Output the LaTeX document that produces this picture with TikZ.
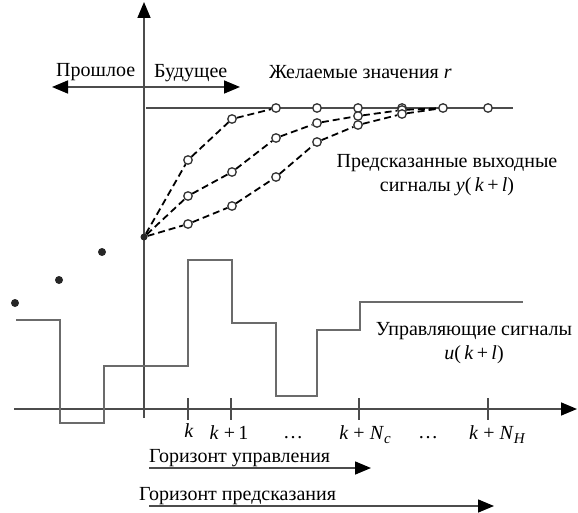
\documentclass[tikz,border=0pt]{standalone}
\usepackage{fontspec}
\setmainfont{Liberation Serif}
\usetikzlibrary{arrows.meta,positioning}
\definecolor{axisgray}{gray}{0.3}
\definecolor{stepgray}{gray}{0.42}
\newcommand{\lowidx}[1]{\raisebox{-4pt}{\fontsize{15}{15}\selectfont\itshape #1}}

\begin{document}
\begin{tikzpicture}[x=1pt,y=-1pt,
font=\fontsize{20}{24}\selectfont,
axis/.style={draw=axisgray,line width=1.6pt},
tip/.style={Triangle[length=16pt,width=13pt,color=black]},
arr/.style={-{Triangle[length=16pt,width=13pt,color=black]}},
ring/.style={circle,draw=black!80,fill=white,line width=1.3pt,inner sep=0pt,minimum size=8.5pt},
dot/.style={circle,fill=black!85,inner sep=0pt,minimum size=8pt},
pred/.style={draw=black,dash pattern=on 7pt off 4pt,line width=1.8pt},
lab/.style={inner sep=0pt,anchor=base west},
tk/.style={inner sep=0pt,anchor=base}
]
\useasboundingbox (0,0) rectangle (578,513);

% axes
\coordinate (o) at (144,418);
\coordinate (top) at (144,2);
\coordinate (xl) at (14,409);
\coordinate (xr) at (577,409);
\draw[axis,arr] (o) -- (top);
\draw[axis,arr] (xl) -- (xr);
\foreach \x/\n in {188/k,231/ka,359/kc,488/kh}
  \draw[axis,line width=1.3pt] (\x,398) coordinate (t\n) -- (\x,420);

% past / future
\coordinate (pl) at (52,87);
\coordinate (pr) at (240,87);
\draw[axis,{Triangle[length=16pt,width=13pt,color=black]}-{Triangle[length=16pt,width=13pt,color=black]}] (pl) -- (pr);
\node[lab] (past) at (56,77) {Прошлое};
\node[lab] (fut) at (154,78) {Будущее};

% reference r
\coordinate (rs) at (146,108);
\coordinate (re) at (513,108);
\draw[draw=axisgray,line width=1.4pt] (rs) -- (re);
\foreach \x [count=\i] in {276,317,358,402,443,488}
  \node[ring] (r\i) at (\x,108) {};
\node[lab] (rlab) at (269,79) {Желаемые значения \textit{r}};

% predicted outputs
\node[dot,minimum size=7pt] (s) at (144,237) {};
\node[ring] (a1) at (188,160) {};
\node[ring] (a2) at (232,119) {};
\node[ring] (b1) at (188,196) {};
\node[ring] (b2) at (232,172) {};
\node[ring] (b3) at (276,138) {};
\node[ring] (b4) at (317,123) {};
\node[ring] (b5) at (358,116) {};
\node[ring] (b6) at (402,110) {};
\node[ring] (c1) at (188,224) {};
\node[ring] (c2) at (232,206) {};
\node[ring] (c3) at (276,177) {};
\node[ring] (c4) at (317,142) {};
\node[ring] (c5) at (358,125) {};
\node[ring] (c6) at (402,114) {};
\draw[pred] (s) -- (a1) -- (a2) -- (r1);
\draw[pred] (s) -- (b1) -- (b2) -- (b3) -- (b4) -- (b5) -- (b6) -- (r5);
\draw[pred] (s) -- (c1) -- (c2) -- (c3) -- (c4) -- (c5) -- (c6) -- (r5);
\node[inner sep=0pt,align=center,anchor=base] (ylab) at (447,192)
  {Предсказанные выходные\\сигналы \textit{y}(\,\textit{k}\,+\,\textit{l})};

% past outputs
\node[dot] (p1) at (15,303) {};
\node[dot] (p2) at (59,280) {};
\node[dot] (p3) at (102,252) {};

% control signal
\draw[draw=stepgray,line width=1.5pt] (16,320) -| (60,423) -| (104,366) -| (188,260)
  -| (232,323) -| (276,396) -| (317,330) -| (360,302) -- (523,302);
\node[inner sep=0pt,align=center,anchor=base] (ulab) at (474,359)
  {Управляющие сигналы\\\textit{u}(\,\textit{k}\,+\,\textit{l})};

% tick labels
\node[tk] (lk) at (189,437) {\textit{k}};
\node[tk] (lka) at (229,439) {\textit{k} +\,1};
\node[tk] (ld1) at (293,438) {…};
\node[tk] (lkc) at (365,439) {\textit{k} + \textit{N}\lowidx{c}};
\node[tk] (ld2) at (428,438) {…};
\node[tk] (lkh) at (497,439) {\textit{k} + \textit{N}\lowidx{H}};

% horizons
\node[lab] (hu) at (149,462) {Горизонт управления};
\coordinate (hu0) at (149,468);
\coordinate (hu1) at (371,468);
\draw[axis,line width=1.5pt,arr] (hu0) -- (hu1);
\node[lab] (hp) at (139,500) {Горизонт предсказания};
\coordinate (hp0) at (149,506);
\coordinate (hp1) at (494,506);
\draw[axis,line width=1.5pt,arr] (hp0) -- (hp1);
\end{tikzpicture}
\end{document}
